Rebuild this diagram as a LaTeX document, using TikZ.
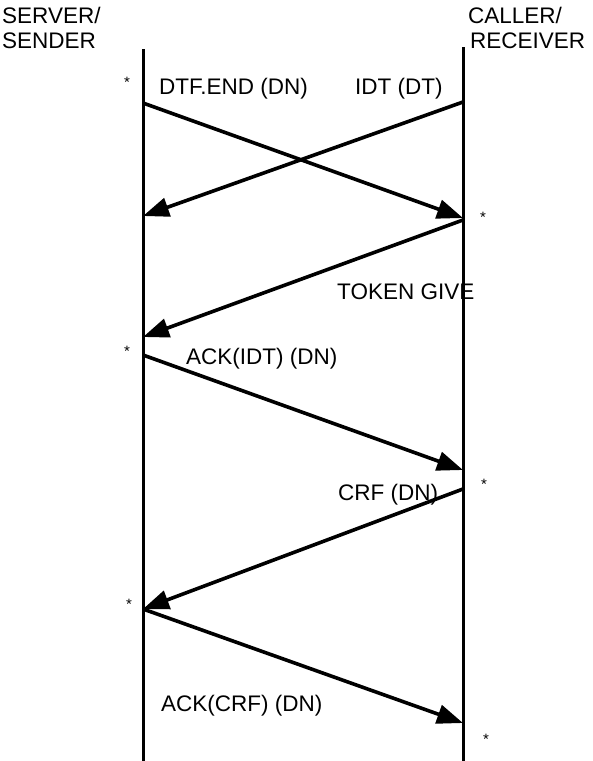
\documentclass[tikz,border=0pt]{standalone}
\usepackage{fontspec}
\setmainfont{Liberation Sans}
\usetikzlibrary{arrows.meta}
\begin{document}
\begin{tikzpicture}[x=1pt,y=-1pt,
  lifeline/.style={line width=3pt},
  msg/.style={line width=3.6pt, -{Triangle[length=26pt,width=19pt]}},
  lbl/.style={font=\fontsize{22.5}{26}\selectfont, inner sep=0pt, anchor=base west},
  starmark/.style={font=\fontsize{15}{15}\selectfont, inner sep=0pt, anchor=north}
]
\useasboundingbox[fill=white] (0,0) rectangle (593,761);

% participants
\node[lbl] (srv1) at (2,23) {SERVER/};
\node[lbl] (srv2) at (2,48) {SENDER};
\node[lbl] (cal1) at (468,23) {CALLER/};
\node[lbl] (cal2) at (470,48) {RECEIVER};

% lifelines
\coordinate (Ltop) at (143,49);
\coordinate (Lbot) at (143,761);
\coordinate (Rtop) at (463,47);
\coordinate (Rbot) at (463,761);
\draw[lifeline] (Ltop) -- (Lbot);
\draw[lifeline] (Rtop) -- (Rbot);

% event points on the lifelines
\coordinate (a1) at (143,103);
\coordinate (a2) at (143,216);
\coordinate (a3) at (143,337);
\coordinate (a4) at (143,355);
\coordinate (a5) at (143,609);
\coordinate (b0) at (463,102);
\coordinate (b1) at (463,218);
\coordinate (b2) at (463,220);
\coordinate (b3) at (463,470);
\coordinate (b4) at (463,489);
\coordinate (b5) at (463,723);

% messages
\draw[msg] (a1) -- (b1);
\draw[msg] (b0) -- (a2);
\draw[msg] (b2) -- (a3);
\draw[msg] (a4) -- (b3);
\draw[msg] (b4) -- (a5);
\draw[msg] (a5) -- (b5);

% message labels
\node[lbl] (m1) at (159,94) {DTF.END (DN)};
\node[lbl] (m2) at (355,94) {IDT (DT)};
\node[lbl] (m3) at (337,299) {TOKEN GIVE};
\node[lbl] (m4) at (186,364) {ACK(IDT) (DN)};
\node[lbl] (m5) at (338,500) {CRF (DN)};
\node[lbl] (m6) at (161,711) {ACK(CRF) (DN)};

% asterisks
\node[starmark] (s1) at (127,77) {*};
\node[starmark] (s2) at (483,212) {*};
\node[starmark] (s3) at (127,346) {*};
\node[starmark] (s4) at (484,479) {*};
\node[starmark] (s5) at (129,599) {*};
\node[starmark] (s6) at (486,734) {*};
\end{tikzpicture}
\end{document}
